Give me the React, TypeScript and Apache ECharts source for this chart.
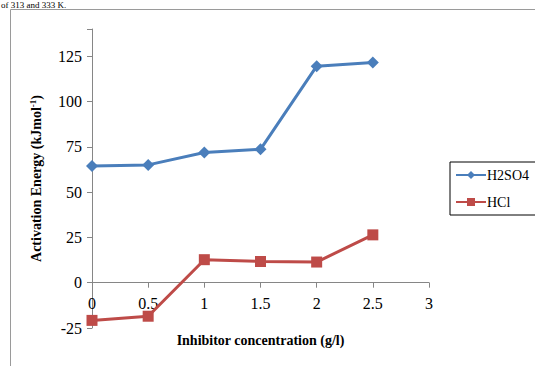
import React, { useEffect, useRef } from "react";
import * as echarts from "echarts";

const concentrations = [0, 0.5, 1, 1.5, 2, 2.5];
const h2so4 = [64.4, 65.0, 71.8, 73.6, 119.5, 121.5];
const hcl = [-20.8, -18.5, 12.7, 11.7, 11.4, 26.4];
const seriesNames = ["H2SO4", "HCl"];

const FONT = "'Liberation Serif', 'Times New Roman', serif";

export default function App() {
  const ref = useRef<HTMLDivElement>(null);
  useEffect(() => {
    document.body.style.margin = "0";
    const chart = echarts.init(ref.current!, null, { renderer: "svg" });
    chart.setOption({
      animation: false,
      textStyle: { fontFamily: FONT },
      graphic: [
        {
          type: "rect",
          shape: { x: 10.5, y: 9.5, width: 540, height: 380 },
          style: { fill: "none", stroke: "#9a9a9a", lineWidth: 1 },
          silent: true,
        },
        {
          type: "text",
          x: 1,
          y: 0,
          style: {
            text: "of 313 and 333 K.",
            font: "9px " + FONT,
            fill: "#000",
            verticalAlign: "top",
          },
        },
      ],
      grid: { left: 92, right: 106, top: 29, bottom: 38, containLabel: false, outerBoundsMode: "none" },
      legend: {
        orient: "vertical",
        left: 450,
        top: 162,
        width: 83,
        borderColor: "#000",
        borderWidth: 1,
        padding: [6, 10, 6, 5],
        itemWidth: 30,
        itemHeight: 10,
        itemGap: 13,
        textStyle: { fontFamily: FONT, fontSize: 14, color: "#000", padding: [0, 0, 0, -4] },
        data: seriesNames,
      },
      xAxis: {
        type: "value",
        min: 0,
        max: 3,
        interval: 0.5,
        name: "Inhibitor concentration (g/l)",
        nameLocation: "middle",
        nameGap: 5,
        nameTextStyle: { fontFamily: FONT, fontSize: 14, fontWeight: "bold", color: "#000" },
        axisLine: { onZero: true, lineStyle: { color: "#868686", width: 1 } },
        axisTick: { show: true, length: 5, lineStyle: { color: "#868686" } },
        axisLabel: { fontFamily: FONT, fontSize: 16, color: "#000", margin: -33 },
        splitLine: { show: false },
      },
      yAxis: {
        type: "value",
        min: -25,
        max: 140,
        interval: 25,
        name: "Activation Energy (kJmol{sup|-1})",
        nameLocation: "middle",
        nameGap: 47,
        nameTextStyle: {
          fontFamily: FONT,
          fontSize: 14,
          fontWeight: "bold",
          color: "#000",
          rich: {
            sup: { fontFamily: FONT, fontSize: 9, fontWeight: "bold", verticalAlign: "top", padding: [0, 0, 8, 0] },
          },
        },
        axisLine: { show: true, onZero: false, lineStyle: { color: "#868686", width: 1 } },
        axisTick: { show: true, length: 5, lineStyle: { color: "#868686" } },
        axisLabel: {
          fontFamily: FONT,
          fontSize: 16,
          color: "#000",
          margin: 10,
          formatter: (v: number) => (v > 130 ? "" : String(v)),
        },
        splitLine: { show: false },
      },
      series: [
        {
          name: seriesNames[0],
          type: "line",
          data: concentrations.map((c, i) => [c, h2so4[i]]),
          symbol: "diamond",
          symbolSize: 12,
          lineStyle: { color: "#4A7EBB", width: 3 },
          itemStyle: { color: "#4A7EBB" },
        },
        {
          name: seriesNames[1],
          type: "line",
          data: concentrations.map((c, i) => [c, hcl[i]]),
          symbol: "rect",
          symbolSize: 11,
          lineStyle: { color: "#BE4B48", width: 3 },
          itemStyle: { color: "#BE4B48" },
        },
      ],
    });
    return () => chart.dispose();
  }, []);
  return <div ref={ref} style={{ width: 535, height: 366 }} />;
}
